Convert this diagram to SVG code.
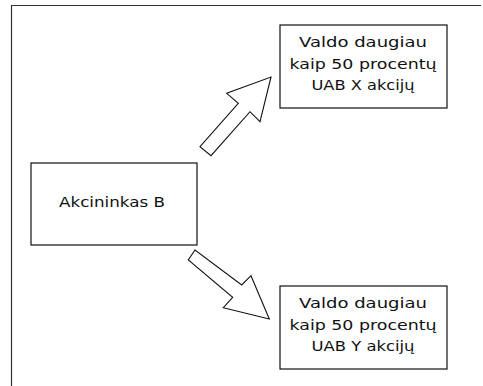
<svg xmlns="http://www.w3.org/2000/svg" width="483" height="386" viewBox="0 0 483 386">
<style>
.box{fill:#fff;stroke:#111;stroke-width:1.2}
.frame{fill:none;stroke:#333;stroke-width:1.2}
.arr{fill:#fff;stroke:#111;stroke-width:1.1;stroke-linejoin:miter}
text{font-family:"DejaVu Sans",sans-serif;font-size:14.5px;fill:#111;text-anchor:middle}
</style>
<rect width="483" height="386" fill="#fff"/>
<path class="frame" d="M11.5,386 V5.5 H481"/>
<g id="connectors">
<polygon class="arr" points="271,77 260,121.7 250,111.7 211,155.7 200,146.7 238.3,103.3 226.7,93.3"/>
<polygon class="arr" points="269.3,319 223.3,307.7 232.7,297.3 188.3,260 195,250 241.7,285 251,275.7"/>
</g>
<g id="node-b">
<rect class="box" x="31" y="163" width="166" height="82"/>
<text x="112" y="207" textLength="106" lengthAdjust="spacingAndGlyphs">Akcininkas B</text>
</g>
<g id="node-x">
<rect class="box" x="280" y="25" width="167" height="83"/>
<text x="363" y="47" textLength="128" lengthAdjust="spacingAndGlyphs">Valdo daugiau</text>
<text x="363" y="69" textLength="147" lengthAdjust="spacingAndGlyphs">kaip 50 procentų</text>
<text x="363" y="90" textLength="103" lengthAdjust="spacingAndGlyphs">UAB X akcijų</text>
</g>
<g id="node-y">
<rect class="box" x="280" y="286" width="167" height="83"/>
<text x="363" y="308" textLength="128" lengthAdjust="spacingAndGlyphs">Valdo daugiau</text>
<text x="363" y="330" textLength="147" lengthAdjust="spacingAndGlyphs">kaip 50 procentų</text>
<text x="363" y="351" textLength="103" lengthAdjust="spacingAndGlyphs">UAB Y akcijų</text>
</g>
</svg>
